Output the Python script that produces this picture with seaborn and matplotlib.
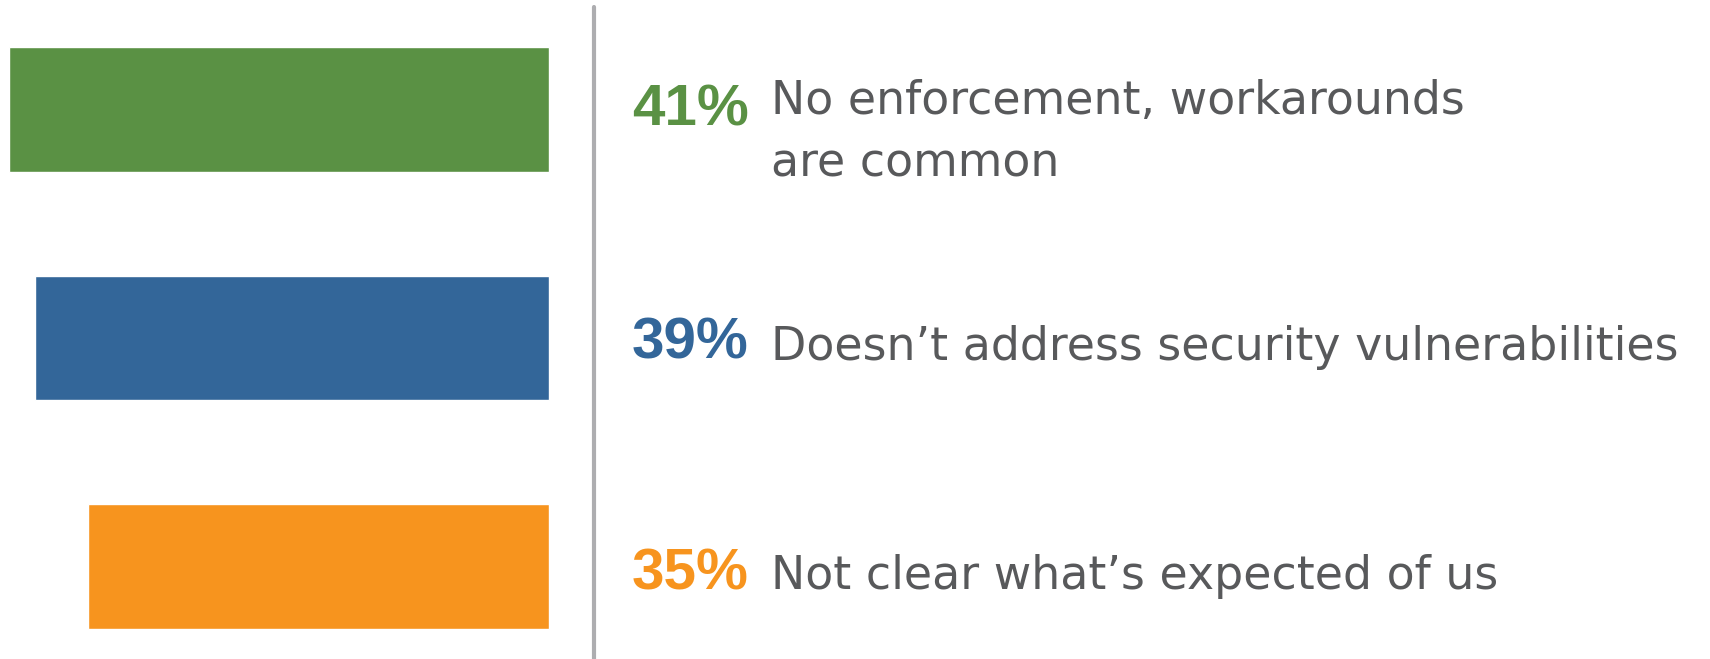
import matplotlib
matplotlib.use("Agg")
import matplotlib.pyplot as plt
import seaborn as sns
import pandas as pd

categories = ["No enforcement, workarounds are common",
              "Doesn\u2019t address security vulnerabilities",
              "Not clear what\u2019s expected of us"]
values = [41, 39, 35]
pct_labels = ["41%", "39%", "35%"]
text_labels = ["No enforcement, workarounds\nare common",
               "Doesn\u2019t address security vulnerabilities",
               "Not clear what\u2019s expected of us"]
colors = ["#5a9144", "#336699", "#f7941e"]

sns.set_theme(style="white")
plt.rcParams["font.family"] = ["Liberation Sans", "DejaVu Sans"]

W, H = 1710, 659
fig = plt.figure(figsize=(W / 100, H / 100), dpi=100)
ax = fig.add_axes([0, 0, 1, 1])

df = pd.DataFrame({"cat": categories, "val": values})
sns.barplot(data=df, x="val", y="cat", hue="cat", palette=colors,
            orient="h", width=0.545, legend=False, ax=ax, saturation=1)

ax.set_xlim(41.69, -88.15)
ax.set_ylim(2.405, -0.479)
ax.axvline(-3.42, ymin=0, ymax=1 - 7 / H, color="#adadb0", lw=3.0)
ax.set_axis_off()

def fx(px):
    return px / W

def fy(py):
    return 1 - py / H

pct_baselines = [125, 359, 590]
lab_baselines = [114, 360, 589]
line_step = 63
for i in range(3):
    fig.text(fx(632), fy(pct_baselines[i]), pct_labels[i], color=colors[i],
             fontsize=42, fontweight="bold", va="baseline", ha="left")
    for j, line in enumerate(text_labels[i].split("\n")):
        fig.text(fx(771), fy(lab_baselines[i] + j * line_step), line,
                 color="#58595b", fontsize=33, va="baseline", ha="left",
                 family=["DejaVu Sans"])

fig.savefig("out.png", dpi=100)
